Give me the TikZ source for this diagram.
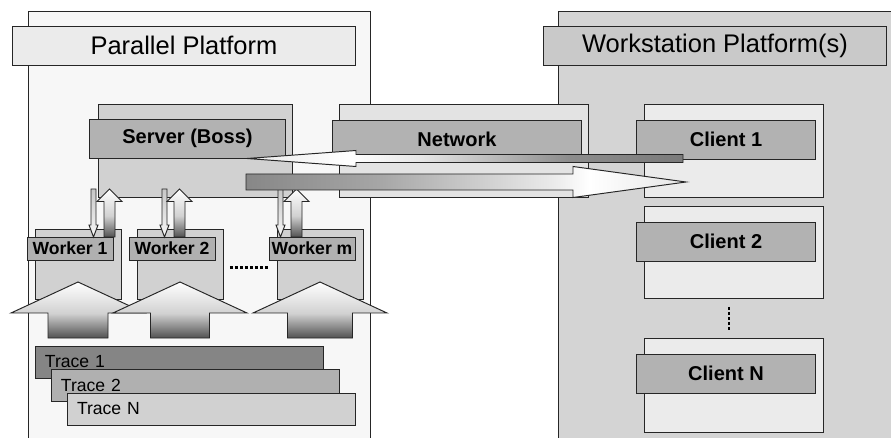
\documentclass[tikz,border=0pt]{standalone}
\usepackage{fontspec}
\setmainfont{Liberation Sans}

% shadings for the block arrows
\pgfdeclareverticalshading{liftshade}{100bp}{color(0bp)=(black!68); color(25bp)=(black!68); color(47bp)=(black!18); color(75bp)=(white); color(100bp)=(white)}
\pgfdeclarehorizontalshading{pushshade}{100bp}{color(0bp)=(black!47); color(25bp)=(black!47); color(40bp)=(black!35); color(60bp)=(black!8); color(64bp)=(white); color(75bp)=(black!10); color(100bp)=(black!10)}
\pgfdeclarehorizontalshading{backshade}{100bp}{color(0bp)=(black!8); color(25bp)=(black!8); color(37bp)=(white); color(45bp)=(black!10); color(62bp)=(black!45); color(75bp)=(black!52); color(100bp)=(black!52)}

\begin{document}
\begin{tikzpicture}[x=0.02cm,y=-0.02cm,
	box/.style={draw=black!85,line width=0.55pt,anchor=north west,inner sep=0pt,outer sep=0pt},
	titlebar/.style={box,minimum width=6.88cm,minimum height=0.78cm,font=\fontsize{14.5}{17}\selectfont},
	hostbar/.style={box,fill=black!30,minimum height=0.79cm,font=\fontsize{11.4}{14}\selectfont\bfseries},
	workbar/.style={box,fill=black!31,minimum height=0.46cm,font=\fontsize{10}{12}\selectfont\bfseries},
	tracebar/.style={box,minimum height=0.64cm,text width=5.38cm,inner xsep=0.2cm,align=left,font=\fontsize{10}{12}\selectfont},
	blockarrow/.style={draw=black!85,line width=0.55pt},
	dotrow/.style={line width=1.7pt,dash pattern=on 1.7pt off 1.13pt}]
\useasboundingbox (0,0) rectangle (891,438);
\clip (0,0) rectangle (891,438);
\fill[white] (0,0) rectangle (891,438);

%% the two platforms
\node[box,fill=black!3,minimum width=6.86cm,minimum height=8.8cm] (par) at (28,11) {};
\node[titlebar,fill=black!8] (partitle) at ([shift={(-16,15)}]par.north west) {Parallel Platform};
\node[box,fill=black!17,minimum width=7cm,minimum height=8.8cm] (ws) at (558,11) {};
\node[titlebar,fill=black!21] (wstitle) at ([shift={(-15,15)}]ws.north west) {Workstation Platform(s)};

%% server and network
\node[box,fill=black!18,minimum width=3.9cm,minimum height=1.88cm] (srvback) at (98,104) {};
\node[hostbar,minimum width=3.94cm] (srv) at ([shift={(-9,15)}]srvback.north west) {Server (Boss)};
\node[box,fill=black!11,minimum width=5cm,minimum height=1.88cm] (netback) at (339,104) {};
\node[hostbar,minimum width=5cm] (net) at ([shift={(-7,16)}]netback.north west) {Network};

%% clients
\foreach \i/\y/\h in {1/104/1.88,2/206/1.86,N/338/1.88}{
	\node[box,fill=black!8,minimum width=3.6cm,minimum height=\h cm] (clb\i) at (644,\y) {};
	\node[hostbar,minimum width=3.6cm] (cl\i) at ([shift={(-8,16)}]clb\i.north west) {Client \i};
}

%% workers
\foreach \i/\x in {1/35,2/137,m/277}{
	\node[box,fill=black!18,minimum width=1.72cm,minimum height=1.4cm] (wkb\i) at (\x,229) {};
	\node[workbar,minimum width=1.72cm] (wk\i) at ([shift={(-8,8)}]wkb\i.north west) {Worker \i};
}

%% server <-> worker arrows
\foreach \d/\u in {93.5/109.5,164.5/179.5,280.5/296.5}{
	\shade[blockarrow,top color=black!22,bottom color=black!3] ({\d-2.5},189) -- ({\d+2.5},189) -- ({\d+2.5},225) -- ({\d+4.5},225)
		-- (\d,237) -- ({\d-4.5},225) -- ({\d-2.5},225) -- cycle;
	\shade[blockarrow,shading=liftshade] (\u,189) -- ({\u+12.5},201.5) -- ({\u+5.5},201.5) -- ({\u+5.5},237)
		-- ({\u-5.5},237) -- ({\u-5.5},201.5) -- ({\u-12.5},201.5) -- cycle;
}

%% trace -> worker arrows
\foreach \t/\b in {78/30,180/29.5,320/32.5}{
	\shade[blockarrow,shading=liftshade] (\t,282) -- ({\t+67},313) -- ({\t+\b},313) -- ({\t+\b},338)
		-- ({\t-\b},338) -- ({\t-\b},313) -- ({\t-67},313) -- cycle;
}

%% traces
\foreach \i/\x/\y/\g in {1/35/346/48,2/51/369/31,N/67/393/18}{
	\node[tracebar,fill=black!\g] (tr\i) at (\x,\y) {Trace \i};
}

%% reply and request between server and clients
\coordinate (reply) at (247,158.5);
\coordinate (request) at (686,182);
\shade[blockarrow,shading=backshade] (reply) -- ++(109,-8) -- ++(0,4) -- ++(327,0) -- ++(0,8) -- ++(-327,0) -- ++(0,4) -- cycle;
\shade[blockarrow,shading=pushshade] (request) -- ++(-113,-15.5) -- ++(0,7.5) -- ++(-327,0) -- ++(0,16) -- ++(327,0) -- ++(0,7.5) -- cycle;

%% more of the same
\draw[dotrow] ([shift={(7,4)}]wkb2.east) -- ([shift={(-9,4)}]wkbm.west);
\draw[dotrow] ([shift={(-5,8)}]clb2.south) -- ([shift={(-5,-8)}]clbN.north);
\end{tikzpicture}
\end{document}
